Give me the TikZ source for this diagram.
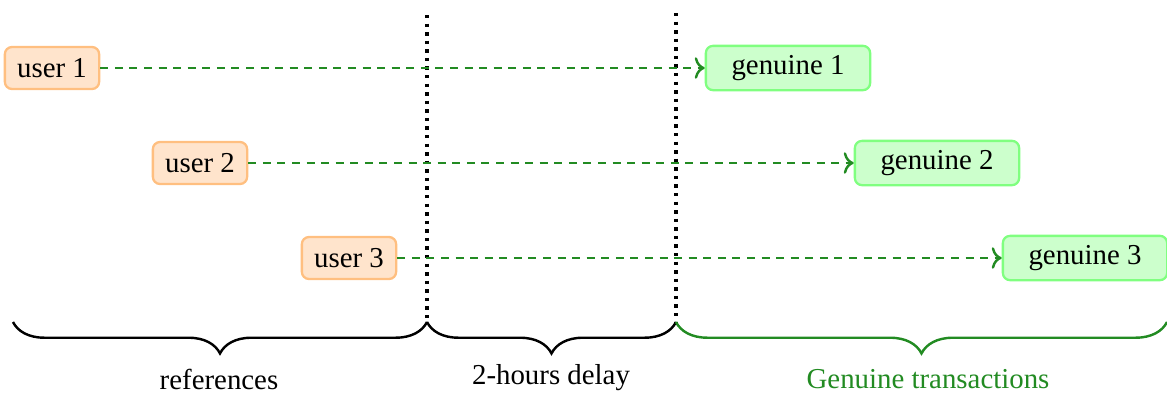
\documentclass[tikz,border=0pt]{standalone}
\usepackage{fontspec}
\setmainfont{Liberation Serif}
\usetikzlibrary{decorations.pathreplacing,arrows.meta}
\definecolor{fgreen}{HTML}{228B22}
\definecolor{ofill}{HTML}{FFE4CC}
\definecolor{odraw}{HTML}{FFBF80}
\definecolor{gfill}{HTML}{CCFFCC}
\definecolor{gdraw}{HTML}{80FF80}
\begin{document}
\begin{tikzpicture}[x=0.35pt,y=-0.35pt,
  userbox/.style={draw=odraw,fill=ofill,rounded corners=2.5pt,line width=0.8pt,minimum height=14.7pt,minimum width=33pt,inner sep=3pt,font=\fontsize{10.1}{12}\selectfont},
  genbox/.style={draw=gdraw,fill=gfill,rounded corners=2.5pt,line width=0.8pt,minimum height=15.5pt,minimum width=57.5pt,inner sep=3pt,font=\fontsize{10.1}{12}\selectfont},
  flow/.style={draw=fgreen,dash pattern=on 2.8pt off 2.3pt,line width=0.85pt,-{To[length=3.5pt,width=7.5pt,line width=0.85pt]}},
  sep/.style={dash pattern=on 1.2pt off 1.8pt,line width=1.2pt},
  brace/.style={decorate,decoration={brace,amplitude=11pt},line width=0.85pt},
  lab/.style={font=\fontsize{10.1}{12}\selectfont}]
\useasboundingbox (0,0) rectangle (1167,393);
\node[userbox] (u1) at (52,68) {user 1};
\node[userbox] (u2) at (200,163) {user 2};
\node[userbox] (u3) at (349,258) {user 3};
\node[genbox] (g1) at (788,68) {genuine 1};
\node[genbox] (g2) at (937,163) {genuine 2};
\node[genbox] (g3) at (1085,258) {genuine 3};
\coordinate (d1t) at (427,15);
\coordinate (d1b) at (427,322);
\coordinate (d2t) at (676,13);
\coordinate (d2b) at (676,327);
\coordinate (b0) at (13,322);
\coordinate (b3) at (1167,322);
\draw[sep] (d1t) -- (d1b);
\draw[sep] (d2t) -- (d2b);
\draw[flow] (u1) -- (g1);
\draw[flow] (u2) -- (g2);
\draw[flow] (u3) -- (g3);
\draw[brace] (d1b) -- (b0);
\draw[brace] (d2b |- d1b) -- (d1b);
\draw[brace,draw=fgreen] (b3) -- (d2b |- d1b);
\node[lab] (l1) at (219,379) {references};
\node[lab] (l2) at (551,378) {2-hours delay};
\node[lab,text=fgreen] (l3) at (928,379) {Genuine transactions};
\end{tikzpicture}
\end{document}
